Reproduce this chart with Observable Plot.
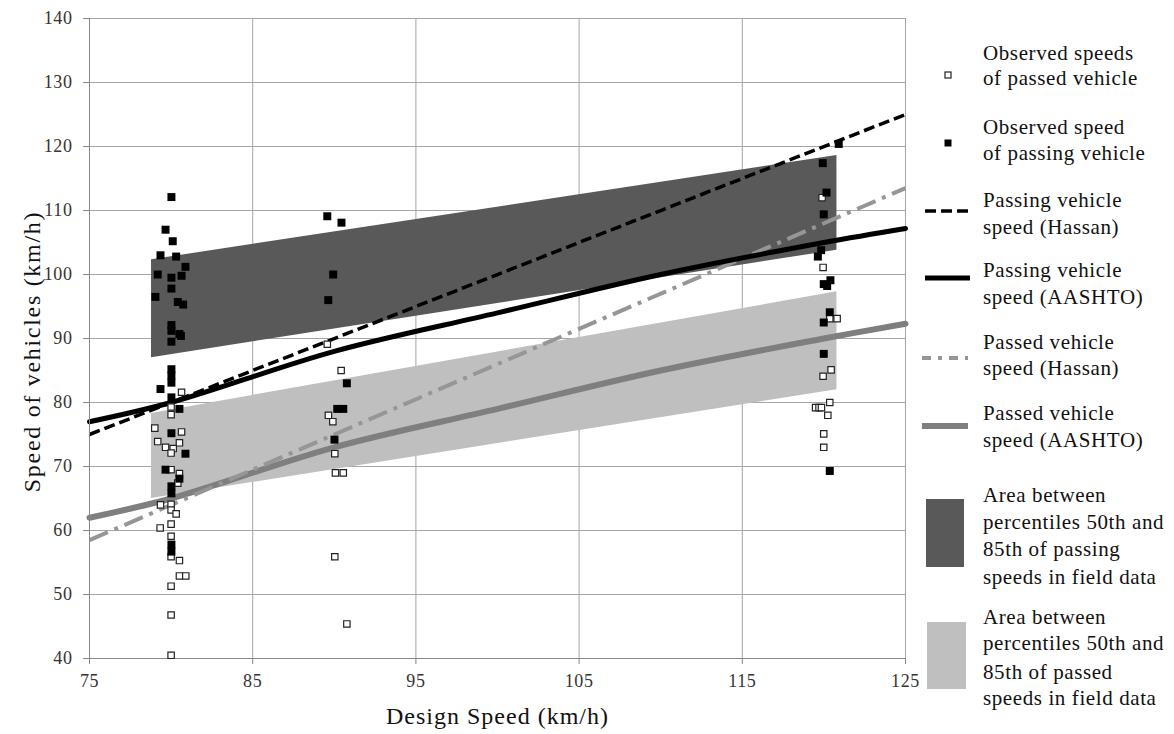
<!DOCTYPE html>
<html><head><meta charset="utf-8">
<script src="https://cdn.jsdelivr.net/npm/d3@7"></script>
<script src="https://cdn.jsdelivr.net/npm/@observablehq/plot@0.6"></script>
<style>
html,body{margin:0;padding:0;background:#fff;}
#wrap{position:relative;width:1174px;height:734px;display:flex;overflow:hidden;}
svg text{font-family:"Liberation Serif","Times New Roman",serif;}
</style></head><body><div id="wrap"></div>
<script>
// ---- data ----
const designTicks = [75, 85, 95, 105, 115, 125];
const speedTicks = [40, 50, 60, 70, 80, 90, 100, 110, 120, 130, 140];

// percentile bands (field data)
const bandX = [78.8, 120.8];
const passingBandLow = [87.0, 103.8];
const passingBandHigh = [102.3, 118.6];
const passedBandLow = [65.0, 82.0];
const passedBandHigh = [78.3, 97.3];

// model lines
const hassanX = [75, 125];
const passingHassanY = [75, 125];
const passedHassanY = [58.5, 113.5];
const aashtoX = [75, 80, 90, 100, 110, 120, 125];
const passingAashtoY = [77, 80, 88, 94, 100, 105, 107.2];
const passedAashtoY = [62, 65, 73, 79, 85, 90, 92.3];

// observed speeds of passing vehicles (filled squares)
const passingX = [80.02, 79.66, 80.1, 79.35, 80.31, 80.88, 79.18, 80.64, 80.02, 80.02, 79.04, 80.41, 80.74, 80.02, 80.02, 80.51, 80.6, 80.02, 80.02, 80.02, 80.02, 79.35, 80.02, 80.51, 80.02, 80.88, 79.66, 80.51, 80.02, 80.02, 80.02, 80.02,
  89.57, 90.44, 89.93, 89.63, 90.77, 90.18, 90.55, 90.01,
  120.91, 119.93, 120.16, 119.99, 119.83, 119.63, 120.4, 119.99, 120.2, 120.36, 119.99, 119.99, 120.36];
const passingY = [112.1, 107.0, 105.2, 103.0, 102.8, 101.2, 100.0, 99.8, 99.5, 97.8, 96.5, 95.7, 95.3, 92.1, 91.2, 90.7, 90.4, 89.5, 85.2, 84.2, 83.1, 82.1, 80.8, 79.0, 75.2, 72.0, 69.5, 68.1, 66.9, 65.8, 57.8, 56.7,
  109.1, 108.1, 100.0, 96.0, 83.0, 79.0, 79.0, 74.2,
  120.4, 117.4, 112.8, 109.4, 103.8, 102.8, 99.1, 98.5, 98.2, 94.1, 92.5, 87.6, 69.3];

// observed speeds of passed vehicles (open squares)
const passedX = [80.64, 80.0, 80.0, 79.0, 80.64, 79.18, 80.51, 79.66, 80.13, 80.0, 80.0, 80.51, 80.41, 80.0, 79.35, 80.0, 80.31, 80.0, 79.33, 80.0, 80.0, 80.51, 80.51, 80.9, 80.0, 80.0, 80.0,
  89.57, 90.42, 89.64, 89.91, 90.03, 90.07, 90.55, 90.03, 90.77,
  119.89, 119.95, 120.36, 120.81, 120.44, 119.95, 120.36, 119.49, 119.7, 119.85, 120.24, 119.99, 119.99];
const passedY = [81.6, 79.3, 78.1, 76.0, 75.4, 73.9, 73.7, 73.0, 72.8, 72.1, 69.5, 68.9, 67.4, 64.1, 64.0, 63.2, 62.6, 61.0, 60.4, 59.1, 55.9, 55.3, 52.9, 52.9, 51.3, 46.8, 40.5,
  89.1, 85.0, 78.0, 77.0, 72.0, 69.0, 69.0, 55.9, 45.4,
  112.0, 101.1, 93.1, 93.1, 85.1, 84.1, 80.0, 79.2, 79.2, 79.2, 78.0, 75.1, 73.0];

const legendItems = [
  ["Observed speeds", "of passed vehicle"],
  ["Observed speed", "of passing vehicle"],
  ["Passing vehicle", "speed (Hassan)"],
  ["Passing vehicle", "speed (AASHTO)"],
  ["Passed vehicle", "speed (Hassan)"],
  ["Passed vehicle", "speed (AASHTO)"],
  ["Area between", "percentiles 50th and", "85th of passing", "speeds in field data"],
  ["Area between", "percentiles 50th and", "85th of passed", "speeds in field data"]
];

// ---- tables built from arrays ----
const passingBand = bandX.map((x, i) => ({x, lo: passingBandLow[i], hi: passingBandHigh[i]}));
const passedBand = bandX.map((x, i) => ({x, lo: passedBandLow[i], hi: passedBandHigh[i]}));
const passingHassan = hassanX.map((x, i) => ({x, y: passingHassanY[i]}));
const passedHassan = hassanX.map((x, i) => ({x, y: passedHassanY[i]}));
const passingAashto = aashtoX.map((x, i) => ({x, y: passingAashtoY[i]}));
const passedAashto = aashtoX.map((x, i) => ({x, y: passedAashtoY[i]}));
const passingPts = passingX.map((x, i) => ({x, y: passingY[i]}));
const passedPts = passedX.map((x, i) => ({x, y: passedY[i]}));

const GRID = "#a6a6a6", AX = "#868686";

const chart = Plot.plot({
  width: 920, height: 734,
  marginLeft: 89, marginRight: 15, marginTop: 18, marginBottom: 76,
  style: {fontFamily: "Liberation Serif, serif", background: "white", overflow: "visible"},
  x: {domain: [75, 125]},
  y: {domain: [40, 140]},
  marks: [
    Plot.gridX(designTicks, {stroke: GRID, strokeOpacity: 1}),
    Plot.gridY(speedTicks, {stroke: GRID, strokeOpacity: 1}),
    Plot.areaY(passingBand, {x: "x", y1: "lo", y2: "hi", fill: "#595959"}),
    Plot.areaY(passedBand, {x: "x", y1: "lo", y2: "hi", fill: "#bfbfbf"}),
    Plot.line(passedAashto, {x: "x", y: "y", stroke: "#7f7f7f", strokeWidth: 6, curve: "catmull-rom"}),
    Plot.line(passedHassan, {x: "x", y: "y", stroke: "#969696", strokeWidth: 4, strokeDasharray: "20,7,4,7", strokeLinecap: "butt"}),
    Plot.line(passingAashto, {x: "x", y: "y", stroke: "#000", strokeWidth: 5, curve: "catmull-rom"}),
    Plot.line(passingHassan, {x: "x", y: "y", stroke: "#000", strokeWidth: 3.5, strokeDasharray: "11,5", strokeLinecap: "butt"}),
    Plot.ruleY([40], {stroke: AX}),
    Plot.ruleX([75], {stroke: AX}),
    Plot.dot(passedPts, {x: "x", y: "y", symbol: "square", r: 3.6, fill: "white", stroke: "#222", strokeWidth: 1.2}),
    Plot.dot(passingPts, {x: "x", y: "y", symbol: "square", r: 4.5, fill: "#000", stroke: "none"}),
    Plot.axisX(designTicks, {tickSize: 6, tickPadding: 10, fontSize: 18, label: null, stroke: AX, fill: "#333"}),
    Plot.axisY(speedTicks, {tickSize: 6, tickPadding: 11, fontSize: 18, label: null, stroke: AX, fill: "#333"}),
    Plot.text(["Design Speed (km/h)"], {frameAnchor: "bottom", dy: 58, fontSize: 24, fill: "#111", lineAnchor: "middle", textAnchor: "middle"}),
    Plot.text(["Speed of vehicles (km/h)"], {frameAnchor: "left", rotate: -90, dx: -57, dy: 13, fontSize: 24, fill: "#111", lineAnchor: "middle", textAnchor: "middle"})
  ]
});

// widen text slightly to match the reference rendering
d3.select(chart).selectAll('g[aria-label="x-axis tick label"] text, g[aria-label="y-axis tick label"] text').style("letter-spacing", "0.6px");
d3.select(chart).selectAll('g[aria-label="text"] text').each(function() {
  const t = this.textContent;
  d3.select(this).style("letter-spacing", t.startsWith("Design") ? "1px" : "1.7px");
});

const wrap = document.getElementById("wrap");
wrap.appendChild(chart);

// ---- legend ----
const lg = d3.create("svg").attr("width", 254).attr("height", 734)
  .style("font-family", "Liberation Serif, serif").style("display", "block");
const lineYs = [[53, 78], [127, 153], [200, 227], [270, 297], [342, 368], [413, 440], [495, 522, 549, 577], [617, 643, 672, 698]];
legendItems.forEach((lines, i) => {
  lines.forEach((s, j) => {
    lg.append("text").attr("x", 63).attr("y", lineYs[i][j]).attr("dy", "0.35em")
      .attr("font-size", 21).style("letter-spacing", "0.6px").attr("fill", "#111").text(s);
  });
});
// symbols
lg.append("rect").attr("x", 25).attr("y", 72).attr("width", 6).attr("height", 6).attr("fill", "white").attr("stroke", "#222").attr("stroke-width", 1.2);
lg.append("rect").attr("x", 24.5).attr("y", 139.5).attr("width", 7).attr("height", 7).attr("fill", "#000");
lg.append("line").attr("x1", 5).attr("x2", 50).attr("y1", 211).attr("y2", 211).attr("stroke", "#000").attr("stroke-width", 3.5).attr("stroke-dasharray", "11,5");
lg.append("line").attr("x1", 5).attr("x2", 50).attr("y1", 278).attr("y2", 278).attr("stroke", "#000").attr("stroke-width", 5);
lg.append("line").attr("x1", 2).attr("x2", 48).attr("y1", 358).attr("y2", 358).attr("stroke", "#969696").attr("stroke-width", 4).attr("stroke-dasharray", "9,7,4,7");
lg.append("line").attr("x1", 2).attr("x2", 48).attr("y1", 426).attr("y2", 426).attr("stroke", "#7f7f7f").attr("stroke-width", 6);
lg.append("rect").attr("x", 6).attr("y", 499).attr("width", 38).attr("height", 68).attr("fill", "#595959");
lg.append("rect").attr("x", 7).attr("y", 622).attr("width", 39).attr("height", 67).attr("fill", "#bfbfbf");
wrap.appendChild(lg.node());
</script></body></html>
